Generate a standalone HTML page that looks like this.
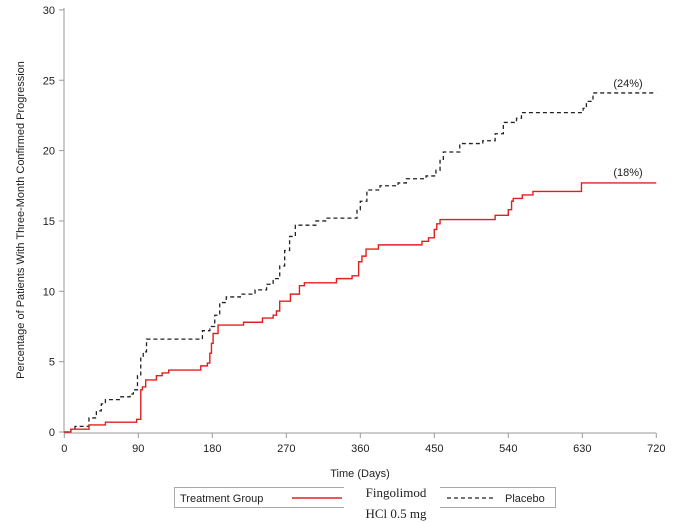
<!DOCTYPE html>
<html><head><meta charset="utf-8"><style>
body{margin:0;background:#fff;width:688px;height:523px;overflow:hidden}
svg{display:block}
text{font-family:"Liberation Sans",sans-serif;font-size:11px;fill:#222}
</style></head><body>
<svg id="s" width="688" height="523" viewBox="0 0 688 523">
<line x1="64" y1="8" x2="64" y2="433" stroke="#999" stroke-width="1"/>
<line x1="64" y1="433" x2="656" y2="433" stroke="#999" stroke-width="1"/>
<g id="ticks"></g>
<text x="24" y="220" text-anchor="middle" transform="rotate(-90 24 220)" font-size="11">Percentage of Patients With Three-Month Confirmed Progression</text>
<text x="360" y="477" text-anchor="middle">Time (Days)</text>
<path id="pl" fill="none" stroke="#222" stroke-width="1.3" stroke-dasharray="4,3"/>
<path id="fi" fill="none" stroke="#e02020" stroke-width="1.4"/>
<text x="628" y="87" text-anchor="middle">(24%)</text>
<text x="628" y="176" text-anchor="middle">(18%)</text>
<rect x="174.5" y="487.5" width="381" height="20" fill="#fff" stroke="#aaa"/>
<text x="180" y="502">Treatment Group</text>
<line x1="292" y1="498" x2="342" y2="498" stroke="#e02020" stroke-width="1.4"/>
<rect x="344" y="480" width="96" height="43" fill="#fff"/>
<text x="396" y="497" text-anchor="middle" style="font-family:'Liberation Serif',serif;font-size:13px">Fingolimod</text>
<text x="396" y="518" text-anchor="middle" style="font-family:'Liberation Serif',serif;font-size:13px">HCl 0.5 mg</text>
<line x1="447" y1="498" x2="493" y2="498" stroke="#222" stroke-width="1.3" stroke-dasharray="4,3"/>
<text x="505" y="502">Placebo</text>
</svg>
<script>
var X=function(d){return 64.3+d*0.8222},Y=function(p){return 432-p*14.07};
var t='';
for(var i=0;i<=8;i++){var x=X(i*90);t+='<line x1="'+x+'" y1="433" x2="'+x+'" y2="438" stroke="#999"/><text x="'+x+'" y="452" text-anchor="middle">'+(i*90)+'</text>';}
for(var j=0;j<=6;j++){var y=Y(j*5);t+='<line x1="59" y1="'+y+'" x2="64" y2="'+y+'" stroke="#999"/><text x="55" y="'+(y+4)+'" text-anchor="end">'+(j*5)+'</text>';}
document.getElementById('ticks').innerHTML=t;
function step(a){var p=a[0],s='M'+X(p[0])+','+Y(p[1]),c=p[1];for(var k=1;k<a.length;k++){s+=' H'+X(a[k][0])+' V'+Y(a[k][1]);}return s+' H'+X(720);}
var fi=[[0,0],[8,0.2],[30,0.5],[50,0.7],[88,0.9],[93,3.0],[95,3.2],[99,3.7],[112,4.0],[119,4.2],[127,4.4],[166,4.7],[174,4.9],[177,5.6],[179,6.3],[181,7.0],[187,7.6],[218,7.8],[241,8.1],[254,8.3],[258,8.6],[262,9.3],[275,9.8],[286,10.4],[292,10.6],[331,10.9],[350,11.1],[358,12.1],[362,12.5],[367,13.0],[382,13.3],[435,13.55],[443,13.8],[450,14.4],[453,14.8],[457,15.1],[524,15.4],[540,15.8],[544,16.4],[546,16.6],[557,16.85],[570,17.1],[629,17.7]];
var pl=[[0,0],[8,0.2],[13,0.4],[30,1.0],[39,1.5],[45,2.0],[50,2.3],[67,2.5],[80,2.7],[84,3.0],[89,4.0],[93,5.3],[96,5.7],[100,6.6],[168,7.2],[177,7.5],[183,8.3],[189,9.2],[197,9.6],[214,9.8],[232,10.1],[246,10.5],[254,10.9],[262,11.8],[268,12.9],[274,13.9],[281,14.7],[306,15.0],[318,15.2],[356,15.8],[360,16.4],[368,17.2],[384,17.5],[406,17.7],[416,18.0],[440,18.2],[452,18.6],[457,19.3],[461,19.9],[481,20.5],[509,20.7],[524,21.2],[534,22.0],[550,22.3],[556,22.7],[631,23.0],[635,23.5],[643,24.1]];
document.getElementById('fi').setAttribute('d',step(fi));
document.getElementById('pl').setAttribute('d',step(pl));
</script>
</body></html>
